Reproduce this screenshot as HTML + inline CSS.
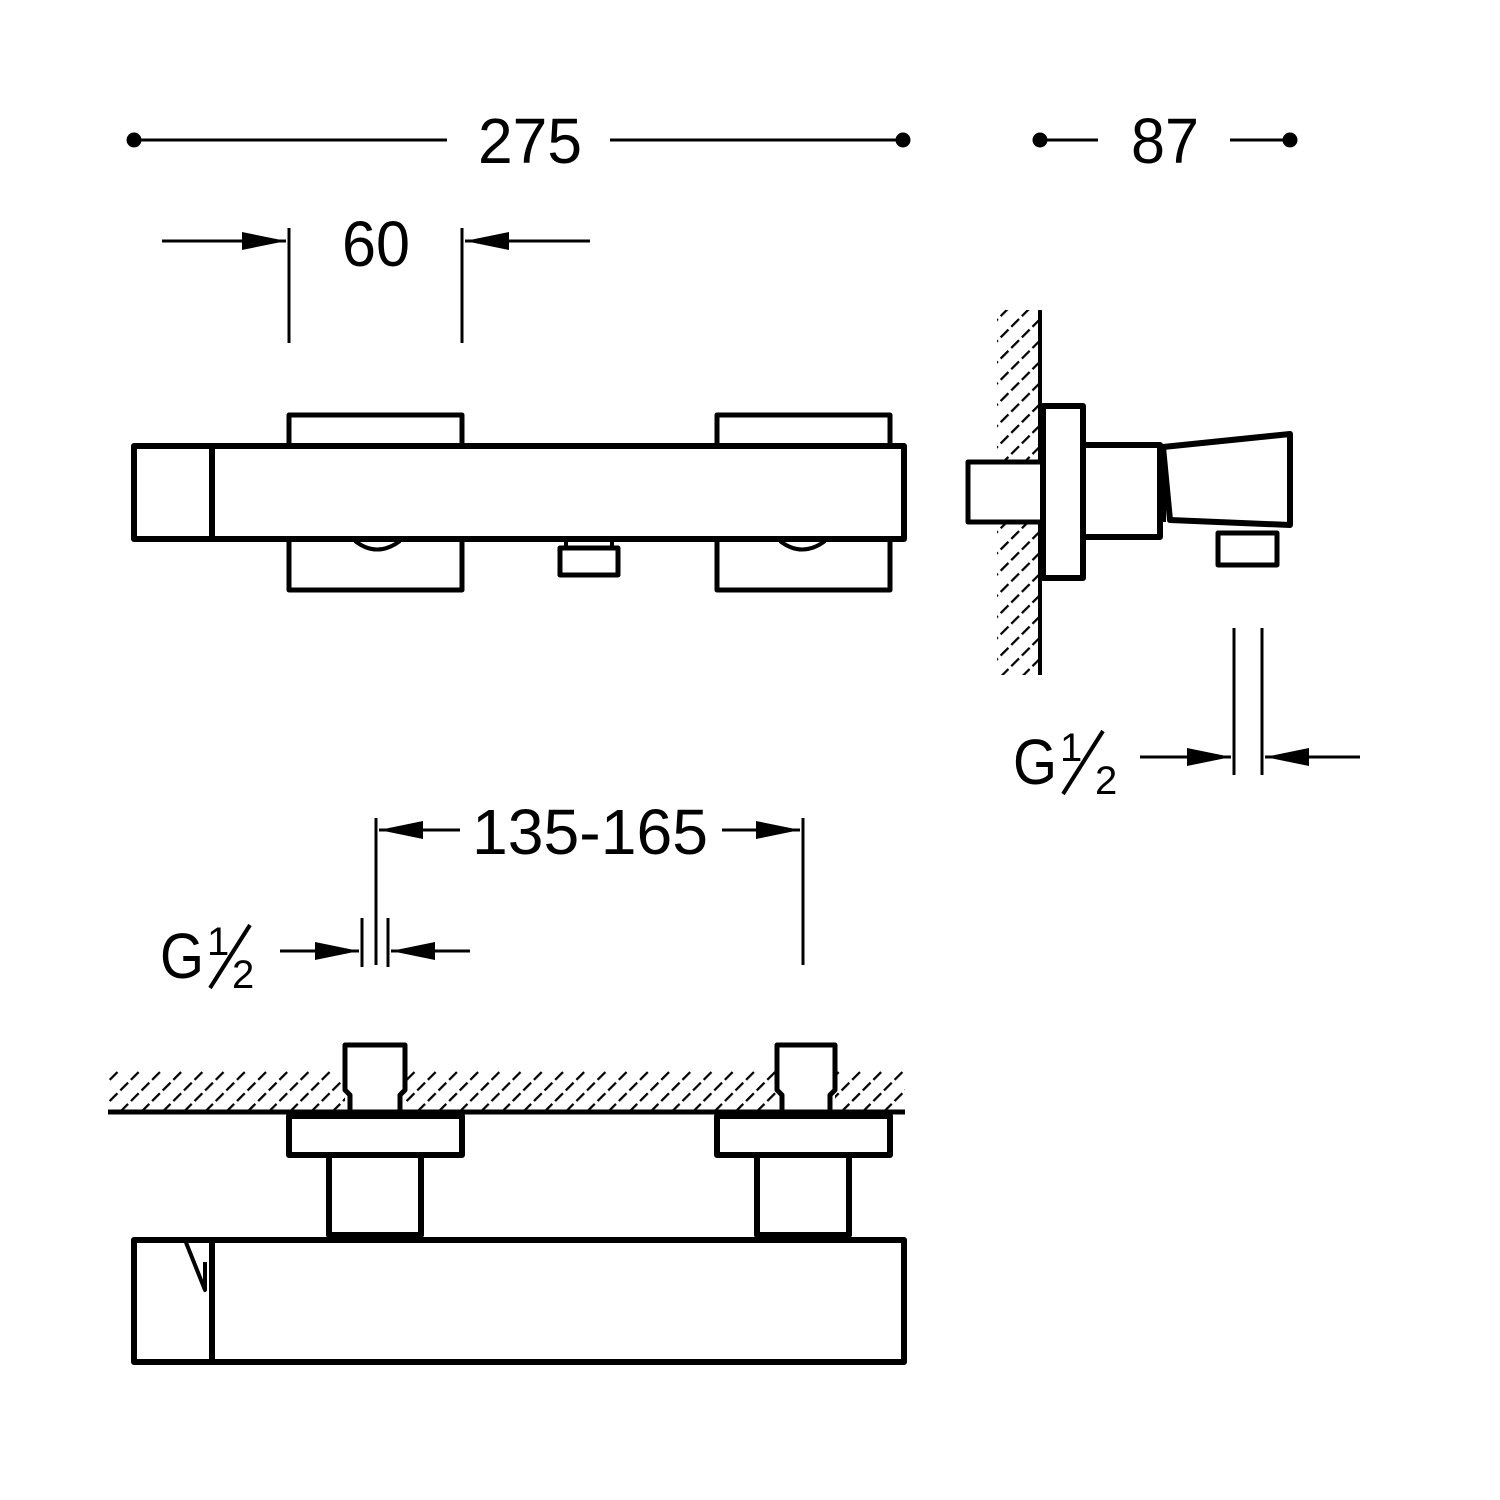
<!DOCTYPE html>
<html><head><meta charset="utf-8"><style>
html,body{margin:0;padding:0;background:#fff;}
svg{display:block}
text{font-family:"Liberation Sans",sans-serif;fill:#000}
</style></head><body>
<svg width="1500" height="1500" viewBox="0 0 1500 1500" xmlns="http://www.w3.org/2000/svg">
<defs>
<pattern id="h" patternUnits="userSpaceOnUse" width="15" height="15" patternTransform="rotate(45)">
<line x1="0" y1="0" x2="0" y2="15" stroke="#000" stroke-width="4.5" stroke-dasharray="11 4"/>
</pattern>
<marker id="a" viewBox="0 0 44 20" refX="44" refY="10" markerWidth="44" markerHeight="20" markerUnits="userSpaceOnUse" orient="auto">
<path d="M0,1 L44,10 L0,19 Z" fill="#000"/>
</marker>
</defs>
<g stroke="#000" fill="none" stroke-linejoin="round">
<line x1="134" y1="140" x2="447" y2="140" stroke-width="3"/>
<line x1="610" y1="140" x2="903" y2="140" stroke-width="3"/>
<circle cx="134" cy="140" r="7" fill="#000"/><circle cx="903" cy="140" r="7" fill="#000"/>
<line x1="1040" y1="140" x2="1098" y2="140" stroke-width="3"/>
<line x1="1230" y1="140" x2="1290" y2="140" stroke-width="3"/>
<circle cx="1040" cy="140" r="7" fill="#000"/><circle cx="1290" cy="140" r="7" fill="#000"/>
<line x1="289" y1="228" x2="289" y2="343" stroke-width="3"/>
<line x1="462" y1="228" x2="462" y2="343" stroke-width="3"/>
<line x1="162" y1="241" x2="286" y2="241" stroke-width="3" marker-end="url(#a)"/>
<line x1="590" y1="241" x2="465" y2="241" stroke-width="3" marker-end="url(#a)"/>

<rect x="289" y="415" width="173" height="35" stroke-width="5"/>
<rect x="717" y="415" width="173" height="35" stroke-width="5"/>
<rect x="289" y="535" width="173" height="55" stroke-width="5"/>
<rect x="717" y="535" width="173" height="55" stroke-width="5"/>
<rect x="134" y="446" width="770" height="93" stroke-width="6" fill="#fff"/>
<line x1="212" y1="446" x2="212" y2="539" stroke-width="6"/>
<path d="M355,541 Q377,558 400,541" stroke-width="4"/>
<path d="M780,541 Q802,558 825,541" stroke-width="4"/>
<rect x="560" y="548" width="58" height="27" stroke-width="5"/>
<line x1="566" y1="541" x2="566" y2="548" stroke-width="4"/><line x1="612" y1="541" x2="612" y2="548" stroke-width="4"/>

<rect x="997" y="310" width="43" height="365" fill="url(#h)" stroke="none"/>
<rect x="968" y="462" width="72" height="60" fill="#fff" stroke="none"/>
<line x1="1040" y1="310" x2="1040" y2="675" stroke-width="4"/>
<path d="M1040,462 L968,462 L968,522 L1040,522" stroke-width="5" fill="#fff"/>
<rect x="1043" y="406" width="40" height="172" stroke-width="6" fill="#fff"/>
<rect x="1083" y="445" width="77" height="92" stroke-width="6"/>
<path d="M1163,447 L1290,434 L1290,525 L1170,520 Z" stroke-width="6" fill="#fff"/>
<line x1="1163" y1="447" x2="1163" y2="522" stroke-width="6"/>
<rect x="1218" y="533" width="59" height="32" stroke-width="5"/>
<line x1="1234" y1="628" x2="1234" y2="775" stroke-width="3"/>
<line x1="1262" y1="628" x2="1262" y2="775" stroke-width="3"/>
<line x1="1140" y1="757" x2="1231" y2="757" stroke-width="3" marker-end="url(#a)"/>
<line x1="1360" y1="757" x2="1265" y2="757" stroke-width="3" marker-end="url(#a)"/>

<line x1="376" y1="818" x2="376" y2="965" stroke-width="3"/>
<line x1="803" y1="818" x2="803" y2="965" stroke-width="3"/>
<line x1="460" y1="830" x2="379" y2="830" stroke-width="3" marker-end="url(#a)"/>
<line x1="722" y1="830" x2="800" y2="830" stroke-width="3" marker-end="url(#a)"/>
<line x1="362" y1="918" x2="362" y2="967" stroke-width="3"/>
<line x1="388" y1="918" x2="388" y2="967" stroke-width="3"/>
<line x1="280" y1="951" x2="359" y2="951" stroke-width="3" marker-end="url(#a)"/>
<line x1="470" y1="951" x2="391" y2="951" stroke-width="3" marker-end="url(#a)"/>

<rect x="108" y="1070" width="797" height="42" fill="url(#h)" stroke="none"/>
<rect x="345" y="1040" width="60" height="72" fill="#fff" stroke="none"/>
<rect x="777" y="1040" width="58" height="72" fill="#fff" stroke="none"/>
<path d="M350,1112 L350,1095 L345,1090 L345,1045 L405,1045 L405,1090 L400,1095 L400,1112" stroke-width="5"/>
<path d="M782,1112 L782,1095 L777,1090 L777,1045 L835,1045 L835,1090 L830,1095 L830,1112" stroke-width="5"/>
<line x1="108" y1="1112" x2="905" y2="1112" stroke-width="5"/>
<rect x="289" y="1116" width="173" height="39" stroke-width="6"/>
<rect x="717" y="1116" width="173" height="39" stroke-width="6"/>
<rect x="329" y="1155" width="92" height="80" stroke-width="6"/>
<rect x="757" y="1155" width="92" height="80" stroke-width="6"/>
<rect x="134" y="1240" width="770" height="122" stroke-width="6" fill="#fff"/>
<line x1="212" y1="1240" x2="212" y2="1362" stroke-width="6"/>
<path d="M185,1240 L205,1290 L205,1262" stroke-width="4"/>
</g>
<g font-size="64">
<text x="530" y="163" text-anchor="middle" textLength="104" lengthAdjust="spacingAndGlyphs">275</text>
<text x="1165" y="163" text-anchor="middle" textLength="68" lengthAdjust="spacingAndGlyphs">87</text>
<text x="376" y="266" text-anchor="middle" textLength="68" lengthAdjust="spacingAndGlyphs">60</text>
<text x="590" y="854" text-anchor="middle" textLength="236" lengthAdjust="spacingAndGlyphs">135-165</text>
<text x="160" y="978" textLength="44" lengthAdjust="spacingAndGlyphs">G</text>
<text x="1013" y="784" textLength="44" lengthAdjust="spacingAndGlyphs">G</text>
</g>
<g font-size="40">
<text x="207" y="955">1</text><text x="232" y="988">2</text>
<text x="1060" y="761">1</text><text x="1095" y="794">2</text>
</g>
<g stroke="#000" stroke-width="4">
<line x1="210" y1="988" x2="250" y2="925"/>
<line x1="1063" y1="794" x2="1103" y2="731"/>
</g>
</svg>
</body></html>
